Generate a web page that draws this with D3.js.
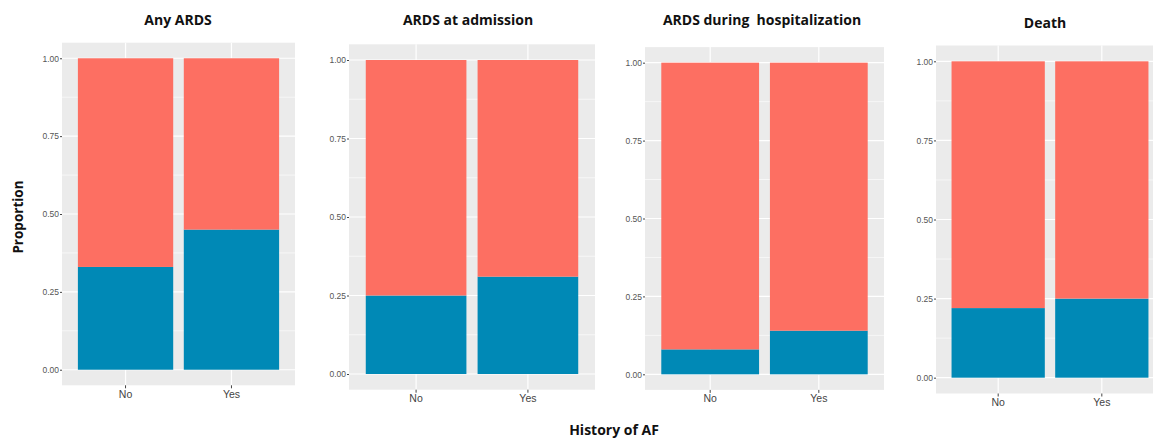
<!DOCTYPE html>
<html>
<head>
<meta charset="utf-8">
<script src="https://cdn.jsdelivr.net/npm/d3@7"></script>
<style>
  body { margin: 0; background: #fff; }
  svg { display: block; font-family: "Open Sans", sans-serif; }
  .axis path { display: none; }
  .axis line { stroke: #444; }
  .yaxis text { fill: #555; font-size: 8.5px; }
  .xaxis text { fill: #444; font-size: 10.5px; }
</style>
</head>
<body>
<svg width="1153" height="441"></svg>
<script>
// data
var categories = ["No", "Yes"];
var outcomes = ["Any ARDS", "ARDS at admission", "ARDS during  hospitalization", "Death"];
// proportion of the outcome (blue part) for each history of AF group
var anyArds = [0.33, 0.45];
var ardsAdmission = [0.25, 0.31];
var ardsHospital = [0.08, 0.14];
var death = [0.22, 0.25];
var yTicks = [0, 0.25, 0.5, 0.75, 1];

var series = [anyArds, ardsAdmission, ardsHospital, death];

// panel boxes
var panels = [
  {left: 62, right: 295, top: 42.7, bottom: 385.3, titleX: 178, titleY: 25},
  {left: 349, right: 595, top: 44.3, bottom: 389.7, titleX: 468, titleY: 25},
  {left: 645, right: 884, top: 47.1, bottom: 389.9, titleX: 762, titleY: 25},
  {left: 936, right: 1164, top: 45.5, bottom: 393.5, titleX: 1045, titleY: 28}
];

var colorNo = "#fd6f62",
    colorYes = "#0089b6";

var svg = d3.select("svg");

panels.forEach(function (p, k) {
  var vals = series[k];

  var x = d3.scaleBand()
      .domain(categories)
      .range([p.left, p.right])
      .paddingInner(0.1)
      .paddingOuter(0.15);

  var y = d3.scaleLinear()
      .domain([-0.05, 1.05])
      .range([p.bottom, p.top]);

  var g = svg.append("g");

  // grey panel
  g.append("rect")
    .attr("x", p.left)
    .attr("y", p.top)
    .attr("width", p.right - p.left)
    .attr("height", p.bottom - p.top)
    .attr("fill", "#ebebeb");

  // minor grid
  g.selectAll(".minor")
    .data([0.125, 0.375, 0.625, 0.875])
    .enter().append("line")
      .attr("x1", p.left).attr("x2", p.right)
      .attr("y1", function (d) { return y(d); })
      .attr("y2", function (d) { return y(d); })
      .attr("stroke", "#fff")
      .attr("stroke-width", 0.6);

  // major grid
  g.selectAll(".major")
    .data(yTicks)
    .enter().append("line")
      .attr("x1", p.left).attr("x2", p.right)
      .attr("y1", function (d) { return y(d); })
      .attr("y2", function (d) { return y(d); })
      .attr("stroke", "#fff")
      .attr("stroke-width", 1.2);

  g.selectAll(".vgrid")
    .data(categories)
    .enter().append("line")
      .attr("x1", function (d) { return x(d) + x.bandwidth() / 2; })
      .attr("x2", function (d) { return x(d) + x.bandwidth() / 2; })
      .attr("y1", p.top).attr("y2", p.bottom)
      .attr("stroke", "#fff")
      .attr("stroke-width", 1.2);

  // stacked bars: blue = outcome, red = rest
  var stack = categories.map(function (c, i) {
    return [
      {cat: c, y0: 0, y1: vals[i], fill: colorYes},
      {cat: c, y0: vals[i], y1: 1, fill: colorNo}
    ];
  });

  g.selectAll(".bar")
    .data(d3.merge(stack))
    .enter().append("rect")
      .attr("x", function (d) { return x(d.cat); })
      .attr("y", function (d) { return y(d.y1); })
      .attr("width", x.bandwidth())
      .attr("height", function (d) { return y(d.y0) - y(d.y1); })
      .attr("fill", function (d) { return d.fill; });

  // axes
  g.append("g")
    .attr("class", "axis yaxis")
    .attr("transform", "translate(" + p.left + ",0)")
    .call(d3.axisLeft(y).tickValues(yTicks).tickFormat(d3.format(".2f")).tickSize(2).tickPadding(1));

  g.append("g")
    .attr("class", "axis xaxis")
    .attr("transform", "translate(0," + p.bottom + ")")
    .call(d3.axisBottom(x).tickSize(3).tickPadding(2));

  // title
  g.append("text")
    .attr("x", p.titleX)
    .attr("y", p.titleY)
    .attr("text-anchor", "middle")
    .attr("font-size", 14)
    .attr("font-weight", "bold")
    .attr("fill", "#111")
    .style("white-space", "pre")
    .text(outcomes[k]);
});

svg.append("text")
  .attr("transform", "translate(23,217) rotate(-90)")
  .attr("text-anchor", "middle")
  .attr("font-size", 13.5)
  .attr("font-weight", "bold")
  .attr("fill", "#111")
  .text("Proportion");

svg.append("text")
  .attr("x", 614)
  .attr("y", 435)
  .attr("text-anchor", "middle")
  .attr("font-size", 14)
  .attr("font-weight", "bold")
  .attr("fill", "#111")
  .text("History of AF");
</script>
</body>
</html>
